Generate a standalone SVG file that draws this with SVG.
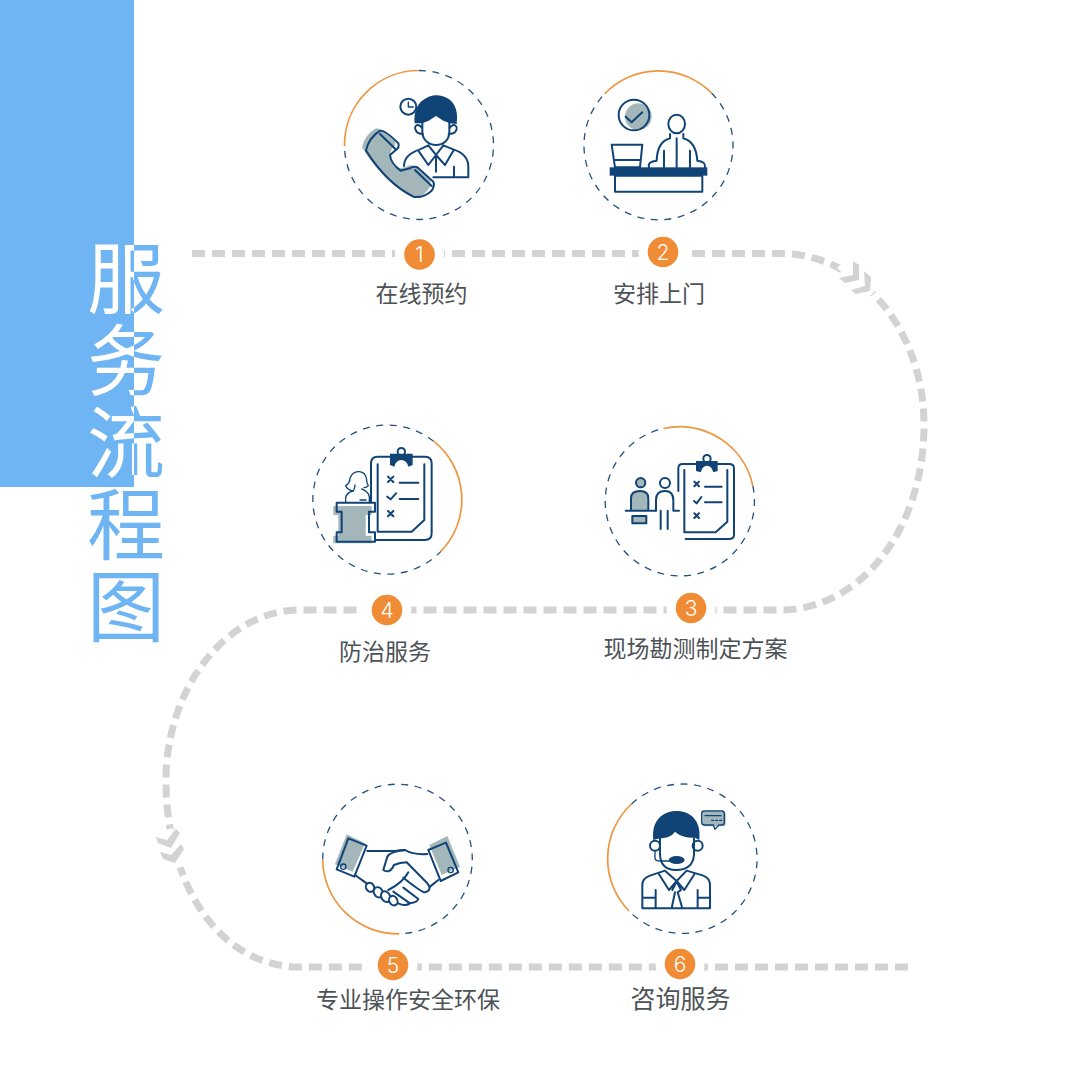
<svg xmlns="http://www.w3.org/2000/svg" width="1080" height="1080" viewBox="0 0 1080 1080">
<style>
text{font-family:"Noto Sans CJK SC","Noto Sans",sans-serif}
.label{font-size:23px;fill:#4d5257;text-anchor:middle}
.num{font-family:Inter,"Noto Sans",sans-serif;font-size:21px;font-weight:300;fill:#fff;text-anchor:middle}
.badge{fill:#f08c35}
.halo{fill:#fff}
.dash{fill:none;stroke:#24507f;stroke-width:1.3;stroke-dasharray:7 6.5}
.arc{fill:none;stroke:#ee9640;stroke-width:1.7}
.ln{fill:none;stroke:#104376;stroke-width:6;stroke-linejoin:round;stroke-linecap:round}
.fw{fill:#fff;stroke:#104376;stroke-width:6;stroke-linejoin:round}
.nv{fill:#104376}
.gr{fill:#a3b6ba}
.path{fill:none;stroke:#d3d3d3;stroke-width:7;stroke-dasharray:13 7}
.gap{fill:none;stroke:#fff;stroke-width:14}
.chev{fill:#d3d3d3}
.title{font-size:78px}
</style>
<defs>
<pattern id="titleSplit" patternUnits="userSpaceOnUse" x="0" y="0" width="1080" height="1080">
<rect width="1080" height="1080" fill="#70b5f3"/><rect width="134" height="487" fill="#fff"/>
</pattern>
</defs>
<rect width="1080" height="1080" fill="#fff"/>
<rect id="banner" x="0" y="0" width="134" height="487" fill="#70b5f3"/>
<g id="connectors">
<path class="path" d="M192 253.500H780C860 253 924 330 924 425C924 530 860 610 780 610H300C225 610 166 690 166 780C166 885 220 967 300 967H680"/>
<path class="path" d="M695 967H908"/>
<path class="gap" d="M842 263L873 293"/>
<path class="gap" d="M166 830L178 868"/>
<polygon class="chev" points="853,261 859,265 859,280 845,283 839,278 853,275"/>
<polygon class="chev" points="864,271 871,277 870,291 856,294 851,290 865,286"/>
<polygon class="chev" points="156,837 167,840 176,829 180,833 171,848 158,843"/>
<polygon class="chev" points="160,852 171,855 181,844 184,849 175,863 163,859"/>
</g>
<text id="title" class="title" x="87 87 87 87 87" y="308 390 472 554 636" fill="url(#titleSplit)">服务流程图</text>

<g id="node1">
<path class="dash" d="M419 70.500A74.500 74.500 0 1 1 344.500 146"/>
<path class="arc" d="M344.500 146A74.500 74.500 0 0 1 419 70.500"/>
<g transform="translate(330 60) scale(.3333)">
<path class="gr" d="M96 262Q103 225 138 205Q155 205 195 245Q200 257 185 267L170 280Q172 305 202 327L230 320Q240 313 252 317L300 360Q305 373 295 387Q270 410 240 405Q160 365 96 262Z"/>
<path class="gr" d="M108 272Q115 235 150 212L190 250L180 285Q182 310 212 332L262 322L300 380Q280 415 250 410Q170 370 108 272Z"/>
<circle class="ln" cx="235" cy="140" r="24"/><path class="ln" style="stroke-width:4" d="M235 126V141H250"/>
<path class="nv" d="M254 190C248 125 295 106 320 106C365 108 388 142 380 192L360 190L340 182L318 168L296 182L277 190Z"/>
<path class="ln" d="M277 182V215C277 240 298 255 318 255C340 255 358 240 358 215V182M277 205C262 185 250 200 258 212C262 222 272 222 279 222M358 205C372 185 385 200 378 212C374 222 364 222 356 222"/>
<path class="ln" d="M222 318C222 295 240 278 270 268L295 256M340 256L370 268C400 278 415 295 415 320V352H310M265 272L295 315L318 285L345 315L370 272M295 256L318 285L340 256M318 285V335M372 320V352"/>
<path class="fw" style="fill:none" d="M108 272Q115 235 150 212Q165 210 205 250Q210 262 195 272L180 285Q182 310 212 332L240 325Q250 318 262 322L310 365Q315 378 305 392Q280 415 250 410Q170 370 108 272Z"/>
<path class="ln" d="M150 222L197 268M255 330L305 378"/>
</g></g>
<g id="badge1"><circle class="halo" cx="419.500" cy="254.500" r="24.500"/><circle class="badge" cx="419.500" cy="254.500" r="15.300"/><text class="num" x="419.500" y="262">1</text></g>
<text class="label" x="421.500" y="302">在线预约</text>

<g id="node2">
<path class="dash" d="M711.500 93A74.500 74.500 0 1 1 604.500 94"/>
<path class="arc" d="M604.500 94A74.500 74.500 0 0 1 711.500 93"/>
<g transform="translate(570 60) scale(.3333)">
<circle class="gr" cx="205" cy="170" r="40"/>
<circle class="ln" cx="192" cy="165" r="46"/>
<path class="ln" d="M167 170L185 187L217 157"/>
<path class="ln" d="M217 254H125L135 322H210ZM132 300H212"/>
<rect class="nv" x="119" y="322" width="293" height="25"/>
<rect class="ln" x="135" y="347" width="262" height="48"/>
<ellipse class="ln" cx="320" cy="192" rx="25" ry="28"/>
<path class="ln" d="M300 222V235Q262 245 260 302Q232 305 237 322M340 222V235Q378 245 382 302Q408 305 405 322M282 272V322M320 235V322M360 272V322"/>
</g></g>
<g id="badge2"><circle class="halo" cx="663" cy="252" r="24.500"/><circle class="badge" cx="663" cy="252" r="15.300"/><text class="num" x="663" y="260">2</text></g>
<text class="label" x="659" y="302">安排上门</text>

<g id="node3">
<path class="dash" d="M752.800 485.700A74.600 74.600 0 1 1 663.500 428.500"/>
<path class="arc" d="M663.500 428.500A74.600 74.600 0 0 1 752.800 485.700"/>
<g transform="translate(595 415) scale(.3333)">
<path class="ln" d="M250 228V160Q250 147 263 147H402Q417 147 417 160V360Q417 372 402 372H272M268 165V352H362L397 320V165"/>
<circle class="ln" cx="336" cy="131" r="11"/>
<path class="nv" d="M303 138H368V168L355 172Q350 152 336 152Q322 152 317 172L303 168Z"/>
<path class="ln" d="M298 200L312 214M312 200L298 214M298 295L312 309M312 295L298 309M297 258L305 265L319 246M330 215H380M330 262H380"/>
<circle class="gr" cx="137" cy="203" r="13"/><circle class="ln" cx="137" cy="203" r="14"/>
<path class="gr" d="M108 287V250Q108 228 135 228Q160 228 160 250V287Z"/>
<path class="ln" d="M108 287V250Q108 228 135 228Q160 228 160 250V287M92 287H182"/>
<rect class="gr" x="112" y="303" width="42" height="22"/><rect class="ln" x="112" y="303" width="42" height="22"/>
<circle class="ln" cx="210" cy="204" r="15"/>
<path class="ln" d="M183 287V255Q183 228 210 228Q235 228 235 255V287H252M197 287V342M218 287V342"/>
</g></g>
<g id="badge3"><circle class="halo" cx="691" cy="608" r="24.500"/><circle class="badge" cx="691" cy="608" r="15.300"/><text class="num" x="691" y="616">3</text></g>
<text class="label" x="695.500" y="657">现场勘测制定方案</text>

<g id="node4">
<path class="dash" d="M433.600 441.200A74.500 74.500 0 1 0 440.900 551.400"/>
<path class="arc" d="M433.600 441.200A74.500 74.500 0 0 1 440.900 551.400"/>
<g transform="translate(300 415) scale(.3333)">
<path class="ln" d="M213 260V145Q213 125 233 125H375Q395 125 395 145V355Q395 375 375 375H228M233 148V350H335L373 315V148"/>
<circle class="ln" cx="304" cy="110" r="11"/>
<path class="nv" d="M270 116H338V150L325 155Q320 135 304 135Q288 135 283 155L270 150Z"/>
<path class="ln" d="M264 185L280 201M280 185L264 201M264 288L280 304M280 288L264 304M262 245L272 253L288 235M299 203H355M299 252H355"/>
<path class="ln" style="stroke-width:4" d="M137 262V248Q140 232 160 228Q142 225 137 212Q150 205 150 190Q158 168 178 170Q198 172 200 195Q200 205 205 212Q200 218 192 218M160 228Q165 218 165 210M185 222Q205 230 208 245V262M180 255H198"/>
<path class="gr" d="M100 273H215V300H197V362H215V385H100V362H115V300H100Z"/>
<path class="ln" d="M110 263H225V290H207V352H225V380H110V352H125V290H110Z"/>
</g></g>
<g id="badge4"><circle class="halo" cx="387" cy="610" r="24.500"/><circle class="badge" cx="387" cy="610" r="15.300"/><text class="num" x="387" y="618">4</text></g>
<text class="label" x="385" y="660">防治服务</text>

<g id="node5">
<path class="dash" d="M322.700 859.500A74.800 74.800 0 1 1 399.300 933.800"/>
<path class="arc" d="M322.700 859.500A74.800 74.800 0 0 0 399.300 933.800"/>
<g transform="translate(310 775) scale(.3333)">
<polygon class="gr" points="110,178 165,205 128,290 75,268"/>
<polygon class="gr" points="358,210 412,183 450,275 395,300"/>
<polygon class="ln" points="115,190 170,212 133,305 80,283"/>
<polygon class="ln" points="355,225 408,203 445,292 392,318"/>
<circle class="ln" style="stroke-width:4" cx="100" cy="275" r="8"/><circle class="ln" style="stroke-width:4" cx="422" cy="285" r="8"/>
<path class="ln" d="M172 228H255Q270 225 285 225Q310 240 352 237M135 300L170 325M385 315L360 335"/>
<path class="ln" d="M285 225Q240 230 232 245L220 285Q240 298 252 270Q270 262 290 262L352 325Q368 345 345 352Q335 352 280 308M295 292C280 320 255 335 235 345M250 350L300 385Q285 395 265 385M280 338L325 372Q322 382 300 385"/>
<ellipse class="fw" cx="180" cy="337" rx="12" ry="14" transform="rotate(-30 180 337)"/>
<ellipse class="fw" cx="205" cy="352" rx="13" ry="16" transform="rotate(-30 205 352)"/>
<ellipse class="fw" cx="227" cy="365" rx="13" ry="17" transform="rotate(-30 227 365)"/>
<ellipse class="fw" cx="250" cy="377" rx="12" ry="15" transform="rotate(-30 250 377)"/>
</g></g>
<g id="badge5"><circle class="halo" cx="393" cy="965" r="24.500"/><circle class="badge" cx="393" cy="965" r="15.300"/><text class="num" x="393" y="973">5</text></g>
<text class="label" x="408" y="1008">专业操作安全环保</text>

<g id="node6">
<path class="dash" d="M631.500 804A74.700 74.700 0 1 1 629 911"/>
<path class="arc" d="M631.500 804A74.700 74.700 0 0 0 629 911"/>
<g transform="translate(595 775) scale(.3333)">
<circle class="ln" cx="180" cy="212" r="15"/><circle class="ln" cx="308" cy="212" r="15"/>
<path class="nv" d="M175 195C168 130 210 108 245 108C285 108 320 135 313 195L300 188C270 188 255 182 240 170C230 185 210 190 195 190Z"/>
<path class="ln" d="M195 190V235Q195 285 243 285Q293 285 297 240V190"/>
<path class="ln" style="stroke-width:4" d="M180 228V248Q180 258 195 258H225"/>
<ellipse class="nv" cx="245" cy="255" rx="24" ry="12"/>
<path class="ln" d="M142 400V330Q142 310 165 302L210 287M345 400V330Q345 310 325 302L275 287M142 400H345M192 298L222 345L245 318L268 345L298 298M210 287L245 318L275 287M232 345L245 320L258 345L248 352L262 400M240 352L230 400M142 368H182M182 345V400M308 345V400M308 368H345"/>
<rect class="gr" x="322" y="110" width="70" height="44" rx="8"/>
<path class="ln" style="stroke-width:4" d="M328 108H380Q388 108 388 116V142Q388 150 380 150H372L360 163L355 150H328Q320 150 320 142V116Q320 108 328 108ZM330 122H378M350 136H356M362 136H368M374 136H380"/>
</g></g>
<g id="badge6"><circle class="halo" cx="680" cy="964" r="24.500"/><circle class="badge" cx="680" cy="964" r="15.300"/><text class="num" x="680" y="972">6</text></g>
<text class="label" x="680.500" y="1008" style="font-size:25px">咨询服务</text>
</svg>
